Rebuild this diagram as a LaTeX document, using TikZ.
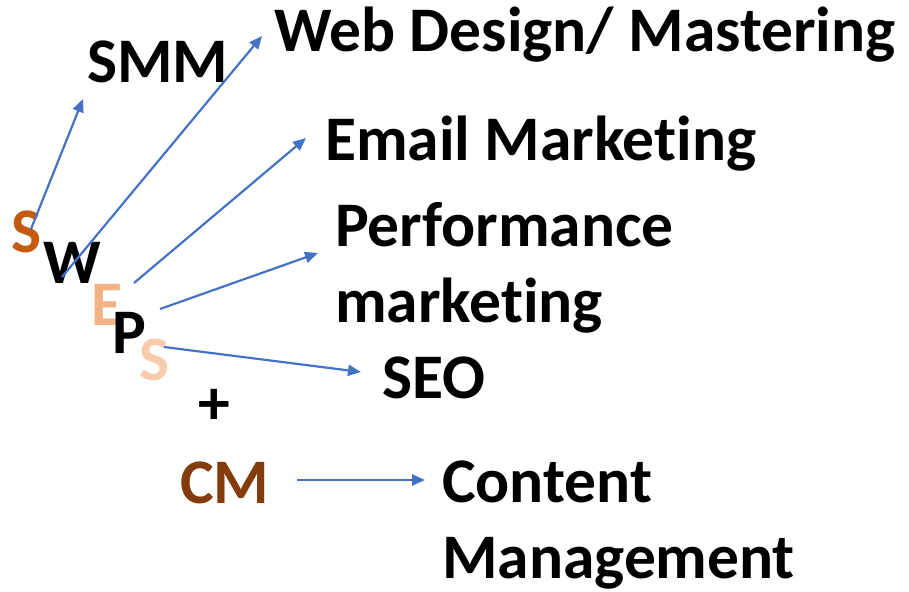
\documentclass[tikz,border=0pt]{standalone}
\usepackage{fontspec}
\setmainfont[Ligatures=NoCommon]{Carlito}
\usetikzlibrary{arrows.meta}
\definecolor{arrowblue}{HTML}{4472C4}
\definecolor{sorange}{HTML}{C55A11}
\definecolor{elight}{HTML}{F4B183}
\definecolor{slight}{HTML}{F8CBAD}
\definecolor{cmbrown}{HTML}{843C0C}
\begin{document}
\begin{tikzpicture}[x=1pt,y=-1pt,
  big/.style={font=\fontsize{63.5}{75.6}\selectfont\bfseries, inner sep=0pt, anchor=base west, align=left},
  conn/.style={draw=arrowblue, line width=2.2pt, -{Triangle[length=13pt,width=11pt]}}]
\useasboundingbox (0,0) rectangle (909,591);
% acronym letters
\node[big, text=sorange] (l1) at (11,252) {S};
\node[big] (l2) at (43,283) {W};
\node[big, text=elight] (l3) at (91,325) {E};
\node[big] (l4) at (112,353) {P};
\node[big, text=slight] (l5) at (139,380) {S};
\node[big, anchor=base] (plus) at (214,424) {+};
\node[big, text=cmbrown] (cm) at (180,503) {CM};
% targets
\node[big] (smm) at (87,83) {SMM};
\node[big] (web) at (274,52) {Web Design/ Mastering};
\node[big] (email) at (325,160) {Email Marketing};
\node[big] (perf) at (335,322) {Performance\\marketing};
\node[big] (seo) at (382,398) {SEO};
\node[big] (content) at (442,578) {Content\\Management};
% arrow start/end points
\coordinate (s1) at (31,229);  \coordinate (e1) at (83,99);
\coordinate (s2) at (62,277);  \coordinate (e2) at (262,36);
\coordinate (s3) at (134,283); \coordinate (e3) at (306,138);
\coordinate (s4) at (160,309); \coordinate (e4) at (318,253);
\coordinate (s5) at (164,347); \coordinate (e5) at (361,372);
\coordinate (s6) at (297,480); \coordinate (e6) at (425,480);
\draw[conn] (s1) -- (e1);
\draw[conn] (s2) -- (e2);
\draw[conn] (s3) -- (e3);
\draw[conn] (s4) -- (e4);
\draw[conn] (s5) -- (e5);
\draw[conn] (s6) -- (e6);
\end{tikzpicture}
\end{document}
